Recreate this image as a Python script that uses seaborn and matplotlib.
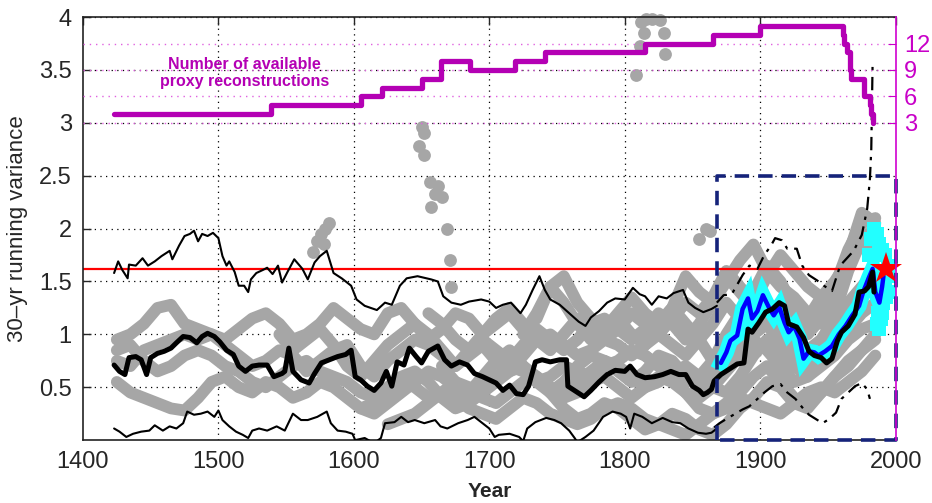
import numpy as np
import pandas as pd
import matplotlib
matplotlib.use("Agg")
import matplotlib.pyplot as plt
import seaborn as sns

# ---------------- data ----------------
# thick black mean line
mean_years = [1423,1427,1431,1434,1439,1443,1447,1450,1455,1460,1465,1469,1474,1479,1484,1488,1492,1497,1501,1506,
              1511,1515,1520,1525,1530,1536,1541,1547,1549,1552,1555,1561,1567,1571,1576,1582,1588,1594,1598,1601,
              1605,1610,1615,1620,1624,1628,1632,1637,1641,1646,1650,1655,1662,1667,1672,1678,1684,1689,1695,1700,
              1705,1710,1715,1720,1725,1729,1734,1739,1745,1752,1757,1758,1764,1770,1775,1781,1787,1793,1800,1804,
              1809,1815,1822,1828,1834,1840,1845,1850,1855,1858,1861,1864,1866,1871,1877,1883,1888,1891,1894,1899,
              1904,1909,1914,1918,1921,1927,1932,1936,1940,1945,1949,1953,1957,1960,1965,1970,1973,1977,1980,1983,1984]
mean_vals = [0.71,0.65,0.62,0.78,0.79,0.76,0.62,0.78,0.82,0.84,0.87,0.92,0.98,0.97,0.92,0.98,1.01,0.98,0.93,0.85,
             0.81,0.70,0.65,0.70,0.71,0.71,0.60,0.63,0.65,0.87,0.65,0.57,0.54,0.63,0.73,0.76,0.79,0.81,0.85,0.60,
             0.57,0.51,0.47,0.54,0.65,0.51,0.74,0.71,0.87,0.79,0.73,0.84,0.89,0.76,0.70,0.74,0.71,0.63,0.60,0.57,
             0.54,0.47,0.52,0.44,0.43,0.51,0.74,0.76,0.74,0.76,0.76,0.51,0.46,0.41,0.47,0.55,0.62,0.66,0.65,0.70,
             0.62,0.59,0.60,0.62,0.65,0.62,0.62,0.51,0.47,0.43,0.45,0.48,0.56,0.62,0.67,0.72,0.73,1.05,1.02,1.11,
             1.21,1.24,1.30,1.27,1.10,1.07,0.97,0.84,0.80,0.78,0.73,0.77,0.94,1.02,1.08,1.19,1.40,1.41,1.45,1.59,1.40]

# thin black upper bound (proxy era)
upper_years = [1423,1426,1429,1433,1434,1439,1444,1448,1453,1458,1464,1466,1471,1475,1479,1482,1485,1488,1492,1496,
               1500,1503,1506,1508,1512,1515,1519,1522,1524,1528,1533,1536,1540,1544,1547,1551,1556,1562,1566,1571,
               1575,1580,1585,1591,1598,1602,1608,1617,1623,1628,1634,1639,1647,1657,1662,1666,1672,1679,1685,1694,
               1700,1705,1710,1716,1723,1727,1732,1737,1741,1745,1752,1759,1766,1771,1775,1781,1787,1793,1800,1806,
               1811,1815,1820,1825,1831,1836,1843,1847,1852,1858,1864,1868]
upper_vals = [1.58,1.69,1.61,1.53,1.66,1.65,1.72,1.65,1.69,1.74,1.79,1.71,1.84,1.93,1.95,1.98,1.88,1.95,1.93,1.96,
              1.91,1.74,1.65,1.69,1.59,1.46,1.46,1.40,1.52,1.58,1.61,1.63,1.57,1.65,1.49,1.59,1.71,1.62,1.52,1.68,
              1.74,1.79,1.58,1.53,1.46,1.33,1.27,1.23,1.30,1.28,1.46,1.53,1.55,1.52,1.50,1.36,1.30,1.28,1.31,1.33,
              1.31,1.25,1.28,1.30,1.20,1.28,1.42,1.55,1.42,1.33,1.28,1.20,1.12,1.08,1.16,1.22,1.30,1.34,1.33,1.44,
              1.38,1.36,1.28,1.36,1.34,1.39,1.42,1.30,1.25,1.21,1.24,1.27]

# thin black lower bound (proxy era)
lower_years = [1423,1427,1432,1437,1443,1449,1453,1459,1464,1469,1474,1477,1482,1487,1492,1497,1500,1503,1508,1513,
               1518,1522,1525,1530,1536,1543,1549,1555,1561,1566,1573,1580,1583,1588,1594,1599,1601,1608,1615,1620,
               1623,1630,1635,1640,1645,1652,1660,1664,1669,1677,1684,1689,1695,1700,1704,1707,1715,1722,1725,1728,
               1734,1742,1748,1753,1759,1763,1765,1771,1777,1784,1791,1797,1801,1804,1807,1813,1820,1828,1835,1841,
               1847,1854,1860,1864,1868]
lower_vals = [0.11,0.08,0.03,0.06,0.08,0.09,0.14,0.09,0.13,0.11,0.16,0.27,0.24,0.25,0.27,0.22,0.28,0.19,0.13,0.08,
              0.05,0.02,0.09,0.11,0.09,0.13,0.09,0.25,0.19,0.19,0.22,0.27,0.16,0.09,0.08,0.06,0.00,0.02,-0.03,0.02,
              0.16,0.17,0.22,0.17,0.19,0.16,0.19,0.13,0.11,0.16,0.19,0.22,0.16,0.11,0.03,0.05,0.06,0.03,-0.01,0.11,
              0.17,0.21,0.19,0.16,0.09,0.02,-0.02,0.03,0.09,0.22,0.27,0.25,0.22,0.11,0.25,0.22,0.16,0.21,0.17,0.16,
              0.11,0.07,0.06,0.07,0.11]

# dash-dot bounds (instrumental era)
dd_up_years = [1868,1873,1879,1887,1892,1898,1903,1908,1911,1916,1920,1927,1931,1936,1942,1947,1953,1956,1959,1964,
               1969,1975,1979,1981,1982,1983]
dd_up_vals = [1.30,1.37,1.38,1.56,1.65,1.62,1.75,1.84,1.91,1.89,1.81,1.81,1.65,1.56,1.51,1.46,1.41,1.53,1.65,1.72,
              1.79,1.94,2.19,2.47,2.75,3.58]
dd_lo_years = [1866,1870,1875,1879,1887,1892,1898,1903,1909,1915,1920,1926,1931,1936,1941,1946,1951,1956,1960,1965,
               1970,1975,1979,1981]
dd_lo_vals = [0.12,0.16,0.20,0.23,0.29,0.32,0.39,0.45,0.51,0.53,0.45,0.39,0.31,0.24,0.20,0.16,0.20,0.26,0.39,0.45,
              0.51,0.54,0.48,0.39]

# instrumental (blue) and extra instrumental members (cyan)
inst_years = [1871,1875,1878,1883,1887,1891,1894,1898,1902,1907,1910,1914,1918,1921,1925,1929,1932,1936,1940,1943,
              1948,1953,1958,1963,1968,1973,1976,1980,1983,1985,1988,1990,1991]
inst_vals = [0.73,0.83,0.94,0.99,1.24,1.34,1.15,1.22,1.37,1.24,1.18,1.26,1.11,1.02,1.08,0.96,0.77,0.84,0.83,0.80,
             0.84,0.89,1.00,1.08,1.18,1.27,1.40,1.53,1.62,1.40,1.30,1.45,1.55]
cyan_years = [1980,1982,1984,1986,1988,1990,1992,1994,1987,1989,1991,1993,1995,1986,1988,1990,1992,1994]
cyan_vals = [1.75,1.90,2.00,1.95,1.85,1.80,1.75,1.65,1.20,1.15,1.30,1.35,1.40,1.10,1.05,1.20,1.50,1.55]

# individual proxy reconstructions (gray), decadal values
p_years = [1425,1435,1445,1455,1465,1475,1485,1495,1505,1515,1525,1535,1545,1555,1565,1575,1585,1595,1605,1615,
           1625,1635,1645,1655,1665,1675,1685,1695,1705,1715,1725,1735,1745,1755,1765,1775,1785,1795,1805,1815,
           1825,1835,1845,1855,1865,1875,1885,1895,1905,1915,1925,1935,1945,1955,1965,1975,1985]
proxyA = [0.95,1.00,1.10,1.25,1.28,1.10,1.05,1.00,0.95,1.05,1.15,1.20,1.10,0.95,1.00,1.10,1.25,1.15,1.05,1.00,
          1.20,1.25,1.10,0.95,1.05,1.20,1.15,1.00,1.10,1.20,1.05,1.15,1.45,1.55,1.30,1.15,1.05,1.20,1.35,1.20,
          1.10,1.25,1.55,1.40,1.30,1.50,1.70,1.85,1.60,1.45,1.35,1.20,1.15,1.35,1.75,2.15,2.05]
proxyB = [0.75,0.70,0.85,0.90,0.95,1.00,0.95,1.00,0.90,0.80,0.70,0.75,0.85,0.80,0.65,0.75,0.85,0.90,0.70,0.60,
          0.75,0.85,0.95,0.90,0.80,0.70,0.80,0.90,0.75,0.65,0.80,0.95,1.00,0.90,0.80,0.85,0.95,0.90,0.80,0.90,
          1.00,0.90,0.80,0.95,0.75,1.00,1.20,1.35,1.20,1.00,0.90,0.85,0.95,1.15,1.30,1.45,1.60]
proxyC = [0.55,0.45,0.40,0.35,0.30,0.28,0.40,0.55,0.60,0.50,0.45,0.55,0.50,0.40,0.45,0.55,0.50,0.40,0.30,0.35,
          0.45,0.55,0.50,0.40,0.45,0.55,0.50,0.40,0.35,0.45,0.55,0.60,0.50,0.40,0.45,0.55,0.60,0.50,0.40,0.50,
          0.60,0.55,0.45,0.40,0.50,0.65,0.80,0.95,0.85,0.70,0.55,0.60,0.75,0.90,1.05,1.20,1.30]
proxyD = [0.85,0.90,0.75,0.65,0.70,0.80,0.85,0.80,0.70,0.65,0.55,0.50,0.60,0.70,0.75,0.65,0.60,0.55,0.45,0.40,
          0.50,0.60,0.65,0.55,0.40,0.30,0.35,0.45,0.60,0.70,0.65,0.55,0.60,0.70,0.65,0.60,0.70,0.75,0.85,0.80,
          0.70,0.60,0.45,0.30,0.25,0.35,0.45,0.60,0.70,0.55,0.40,0.35,0.45,0.60,0.75,0.85,0.95]
proxyE = [1.00,0.85,0.95,1.05,0.90,0.70,0.60,0.75,0.90,1.00,1.10,1.00,0.85,0.70,0.85,0.95,0.85,0.75,0.90,1.05,
          0.95,0.85,0.95,1.10,1.15,1.05,0.95,1.05,1.20,1.10,0.95,1.10,1.30,1.55,1.40,1.25,1.20,1.25,1.10,1.00,
          1.15,1.45,1.70,1.85,1.95]
proxyF = [0.30,0.25,0.35,0.45,0.55,0.65,0.60,0.50,0.40,0.45,0.55,0.65,0.70,0.60,0.50,0.45,0.55,0.65,0.75,0.70,
          0.60,0.50,0.55,0.65,0.70,0.60,0.50,0.45,0.60,0.80,0.95,0.85,0.70,0.60,0.70,0.80,0.95,1.05,1.10]
proxyG = [0.15,0.20,0.25,0.35,0.45,0.40,0.30,0.25,0.20,0.30,0.40,0.35,0.25,0.20,0.15,0.20,0.30,0.35,0.30,0.20,
          0.15,0.10,0.05,0.15,0.25,0.30,0.40,0.35,0.30,0.25,0.35,0.45,0.50,0.45,0.55,0.65,0.80]
proxyH = [1.20,1.10,0.95,0.85,1.00,1.15,1.25,1.10,0.95,0.85,1.00,1.15,1.05,0.95,1.05,1.20,1.10,1.00,1.15,1.30,
          1.20,1.35,1.60,1.45,1.30,1.55,1.75,1.60,1.45,1.35,1.45,1.80,2.05,2.10]
proxyI = [0.70,0.55,0.45,0.60,0.75,0.85,0.70,0.55,0.45,0.55,0.70,0.80,0.75,0.65,0.55,0.65,0.80,0.75,0.60,0.50,
          0.65,0.80,0.90,1.00,1.10,1.00,0.80,0.70,0.85,1.05,1.20,1.35,1.50]
proxyJ = [1.00,1.20,1.45,1.30,1.10,0.95,1.05,1.15,1.00,0.90,1.10,1.25,1.10,0.95,1.10,1.30,1.15,1.40,1.65,1.50,
          1.25,1.15,1.10,1.20,1.60,1.90,2.00]
proxyK = [0.45,0.30,0.20,0.25,0.35,0.30,0.20,0.10,0.15,0.25,0.20,0.10,0.05,0.15,0.30,0.40,0.55,0.50,0.35,0.30,
          0.45,0.60,0.70,0.85,1.00]
proxyL = [0.80,0.70,0.65,0.55,0.60,0.75,0.95,1.10,1.25,1.10,0.90,1.00,1.15,1.35,1.50,1.70,1.85,1.80]
proxies = [proxyA, proxyB, proxyC, proxyD, proxyE, proxyF, proxyG, proxyH, proxyI, proxyJ, proxyK, proxyL]
proxy_first = [1425, 1425, 1425, 1425, 1545, 1605, 1625, 1655, 1665, 1725, 1745, 1815]

# isolated high proxy values
out_years = [1570,1573,1576,1579,1582,1578,1648,1650,1652,1652,1656,1660,1662,1657,1665,1669,1671,1672,
             1808,1811,1814,1812,1816,1820,1826,1829,1830,1855,1860,1863]
out_vals = [1.78,1.88,1.95,2.00,2.05,1.85,2.78,2.96,2.90,2.70,2.44,2.33,2.40,2.20,2.30,2.00,1.70,1.45,
            3.45,3.73,3.85,3.95,3.98,3.98,3.97,3.85,3.65,1.90,2.00,1.98]

# number of available proxy reconstructions (right axis)
count_years = [1423,1539,1605,1621,1650,1664,1686,1719,1741,1815,1865,1900,1961,1962,1964,1966,1967,1977,1981,1982,1983]
count_vals = [4,5,6,7,8,10,9,10,11,12,13,14,13,12,11,9,8,6,5,4,3]

threshold = 1.62
star_year = 1993
box_x = [1868, 2000]
box_y = [0, 2.5]

xticks = [1400, 1500, 1600, 1700, 1800, 1900, 2000]
yticks = [0.5, 1, 1.5, 2, 2.5, 3, 3.5, 4]
yticklabels = ["0.5", "1", "1.5", "2", "2.5", "3", "3.5", "4"]
rticks = [3, 6, 9, 12]

# ---------------- style ----------------
sns.set_style("white")
plt.rcParams['font.family'] = ['Liberation Sans', 'DejaVu Sans']

GRAY = "#a6a6a6"
MAG = "#b400b4"
MAGT = "#c800c8"
NAVY = "#15237a"

fig = plt.figure(figsize=(9.32, 5.03), dpi=100)
ax = fig.add_axes([0.089, 0.125, 0.872, 0.841])

# grid
for yv in yticks:
    ax.axhline(yv, color="black", lw=0.9, ls=(0, (1, 3.5)), zorder=0.5)
for xv in xticks[1:-1]:
    ax.axvline(xv, color="black", lw=0.9, ls=(0, (1, 3.5)), zorder=0.5)

# gray proxies
for first, pv in zip(proxy_first, proxies):
    s = p_years.index(first)
    yrs = p_years[s:s + len(pv)]
    df = pd.DataFrame({"year": yrs, "v": pv[:len(yrs)]})
    sns.lineplot(data=df, x="year", y="v", ax=ax, color=GRAY, lw=8.5, sort=False, estimator=None,
                 solid_capstyle="round", solid_joinstyle="round", zorder=1)
sns.scatterplot(x=out_years, y=out_vals, ax=ax, color=GRAY, s=85, linewidth=0, zorder=1, clip_on=False)

# red threshold
ax.axhline(threshold, color="red", lw=1.6, zorder=2)

# bounds
sns.lineplot(x=upper_years, y=upper_vals, ax=ax, color="black", lw=1.5, sort=False, estimator=None, zorder=3)
sns.lineplot(x=lower_years, y=lower_vals, ax=ax, color="black", lw=1.5, sort=False, estimator=None, zorder=3)
sns.lineplot(x=dd_up_years, y=dd_up_vals, ax=ax, color="black", lw=1.6, sort=False, estimator=None,
             linestyle=(0, (6, 3, 1.5, 3)), zorder=3)
sns.lineplot(x=dd_lo_years, y=dd_lo_vals, ax=ax, color="black", lw=1.6, sort=False, estimator=None,
             linestyle=(0, (6, 3, 1.5, 3)), zorder=3)

# instrumental
sns.lineplot(x=inst_years, y=inst_vals, ax=ax, color="#22ffff", lw=11, sort=False, estimator=None,
             solid_joinstyle="miter", solid_capstyle="projecting", zorder=4)
sns.scatterplot(x=cyan_years, y=cyan_vals, ax=ax, color="#22ffff", marker="s", s=110, linewidth=0, zorder=4)
sns.lineplot(x=inst_years, y=inst_vals, ax=ax, color="#0000ff", lw=3.2, sort=False, estimator=None, zorder=5)

# mean
sns.lineplot(x=mean_years, y=mean_vals, ax=ax, color="black", lw=3.6, sort=False, estimator=None, zorder=6)

# star
ax.plot([star_year], [threshold], marker="*", color="red", markersize=24, markeredgewidth=0, zorder=8, clip_on=False)

# dashed box
ax.plot([box_x[0], box_x[0], box_x[1], box_x[1], box_x[0]],
        [box_y[0], box_y[1], box_y[1], box_y[0], box_y[0]],
        color=NAVY, lw=2.6, ls=(0, (4, 2.5)), zorder=7, clip_on=False)

ax.set_xlim(1400, 2000)
ax.set_ylim(0, 4)
ax.set_xticks(xticks)
ax.set_xticklabels([str(x) for x in xticks], fontsize=17)
ax.set_yticks(yticks)
ax.set_yticklabels(yticklabels, fontsize=17)
ax.tick_params(direction="in", length=6, width=1, top=True, right=True, pad=8)
ax.set_xlabel("Year", fontsize=15, fontweight="bold", labelpad=6)
ax.set_ylabel("30\u2013yr running variance", fontsize=16, labelpad=8)
for sp in ["left", "top", "bottom"]:
    ax.spines[sp].set_color("#222222")
    ax.spines[sp].set_linewidth(1.2)
ax.spines["right"].set_visible(False)

ax.text(1519, 3.47, "Number of available\nproxy reconstructions", ha="center", va="center",
        color=MAG, fontsize=11.5, fontweight="bold", zorder=9)

# right axis
ax2 = ax.twinx()
ax2.set_ylim(-33, 15)
for rv in rticks:
    ax2.axhline(rv, color="#e060e0", lw=1.0, ls=(0, (1, 3.5)), zorder=0.5)
sns.lineplot(x=count_years, y=count_vals, ax=ax2, color=MAG, lw=3.8, sort=False, estimator=None,
             drawstyle="steps-post", zorder=9)
ax2.set_yticks(rticks)
ax2.set_yticklabels([str(r) for r in rticks], fontsize=17, color=MAGT)
ax2.tick_params(axis="y", colors=MAGT, direction="in", length=6, pad=6)
ax2.set_ylabel("")
ax2.set_xlabel("")
for sp in ["left", "top", "bottom"]:
    ax2.spines[sp].set_visible(False)
ax2.spines["right"].set_color("#d000d0")
ax2.spines["right"].set_linewidth(1.2)
ax2.set_xlim(1400, 2000)

fig.savefig("out.png", dpi=100)
